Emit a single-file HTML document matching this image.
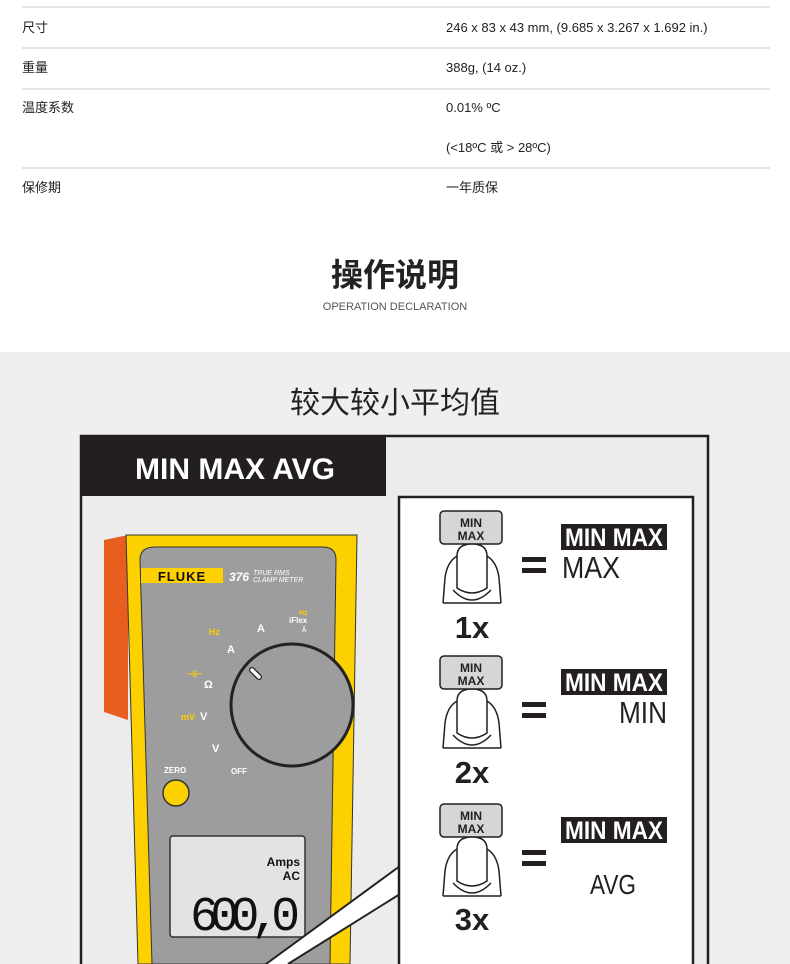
<!DOCTYPE html>
<html><head><meta charset="utf-8"><style>
*{margin:0;padding:0;box-sizing:border-box}
body{width:790px;height:964px;overflow:hidden;background:#fff;font-family:"Liberation Sans","Noto Sans CJK SC",sans-serif;color:#222;position:relative}
.t{position:absolute;font-size:13px;line-height:18px;white-space:nowrap}
.hl{position:absolute;left:22px;width:748px;height:2px;background:#e4e4e4}
</style></head><body>
<div class="hl" style="top:6px"></div>
<div class="t" style="left:22px;top:19px">尺寸</div>
<div class="t" style="left:446px;top:19px">246 x 83 x 43 mm, (9.685 x 3.267 x 1.692 in.)</div>
<div class="hl" style="top:47px"></div>
<div class="t" style="left:22px;top:59px">重量</div>
<div class="t" style="left:446px;top:59px">388g, (14 oz.)</div>
<div class="hl" style="top:88px"></div>
<div class="t" style="left:22px;top:99px">温度系数</div>
<div class="t" style="left:446px;top:99px">0.01% ºC</div>
<div class="t" style="left:446px;top:139px">(&lt;18ºC 或 &gt; 28ºC)</div>
<div class="hl" style="top:167px"></div>
<div class="t" style="left:22px;top:179px">保修期</div>
<div class="t" style="left:446px;top:179px">一年质保</div>
<div style="position:absolute;left:0;width:790px;top:254px;line-height:42px;text-align:center;font-size:32px;font-weight:bold;color:#222">操作说明</div>
<div style="position:absolute;left:0;width:790px;top:300px;line-height:14px;text-align:center;font-size:11px;color:#555">OPERATION DECLARATION</div>
<div style="position:absolute;left:0;top:352px;width:790px;height:612px;background:#efefef"></div>
<div style="position:absolute;left:0;width:790px;top:384px;line-height:40px;text-align:center;font-size:30px;color:#222">较大较小平均值</div>
<svg style="position:absolute;left:0;top:0" width="790" height="964" viewBox="0 0 790 964">
<rect x="81" y="436" width="627" height="540" fill="#ececec" stroke="#231f20" stroke-width="2.5"/>
<rect x="81" y="436" width="305" height="60" fill="#231f20"/>
<text x="235" y="479" text-anchor="middle" font-family="Liberation Sans" font-weight="bold" font-size="30" fill="#fff">MIN MAX AVG</text>
<path d="M104 540 L128 535 L128 720 L104 712 Z" fill="#e85e1f"/>
<path d="M126 535 L357 535 L350 964 L138 964 Z" fill="#fdd100" stroke="#333" stroke-width="1"/>
<path d="M140 560 Q140 547 155 547 L323 547 Q336 547 336 560 L330 964 L152 964 Z" fill="#9d9d9d" stroke="#333" stroke-width="1"/>
<rect x="141" y="568" width="82" height="15" fill="#fdd100"/>
<text x="182" y="581" text-anchor="middle" font-family="Liberation Sans" font-weight="bold" font-size="13" fill="#111" letter-spacing="1">FLUKE</text>
<text x="229" y="581" font-family="Liberation Sans" font-weight="bold" font-style="italic" font-size="12" fill="#fff">376</text>
<text x="253" y="575" font-family="Liberation Sans" font-style="italic" font-size="7" fill="#fff">TRUE RMS</text>
<text x="253" y="582" font-family="Liberation Sans" font-style="italic" font-size="7" fill="#fff">CLAMP METER</text>
<g font-family="Liberation Sans" font-weight="bold" fill="#fff">
<text x="257" y="632" font-size="11">A</text>
<text x="289" y="623" font-size="8">iFlex</text>
<text x="299" y="615" font-size="7" fill="#fdd100">Hz</text>
<text x="302" y="632" font-size="6">Ã</text>
<text x="209" y="635" font-size="9" fill="#fdd100">Hz</text>
<text x="227" y="653" font-size="11">A</text>
<text x="204" y="688" font-size="11">Ω</text>
<text x="187" y="677" font-size="9" fill="#fdd100">⊣⊢</text>
<text x="181" y="720" font-size="9" fill="#fdd100">mV</text>
<text x="200" y="720" font-size="11">V</text>
<text x="212" y="752" font-size="11">V</text>
<text x="164" y="773" font-size="8">ZERO</text>
<text x="231" y="774" font-size="8">OFF</text>
</g>
<circle cx="292" cy="705" r="61" fill="#9d9d9d" stroke="#222" stroke-width="3"/>
<line x1="252" y1="670" x2="259" y2="677" stroke="#222" stroke-width="6" stroke-linecap="round"/>
<line x1="252" y1="670" x2="259" y2="677" stroke="#fff" stroke-width="3.5" stroke-linecap="round"/>
<circle cx="176" cy="793" r="13" fill="#fdd100" stroke="#333" stroke-width="1.5"/>
<rect x="170" y="836" width="135" height="101" rx="3" fill="#e3e3e3" stroke="#333" stroke-width="1.5"/>
<text x="300" y="866" text-anchor="end" font-family="Liberation Sans" font-weight="bold" font-size="12" fill="#111">Amps</text>
<text x="300" y="880" text-anchor="end" font-family="Liberation Sans" font-weight="bold" font-size="12" fill="#111">AC</text>
<text x="190" y="930" font-family="Liberation Mono" font-size="48" fill="#111" textLength="110">600,0</text>
<path d="M400 866 L266 964 L288 964 L400 894 Z" fill="#fff"/>
<path d="M400 866 L266 964 M400 894 L288 964" stroke="#222" stroke-width="2"/>
<rect x="399" y="497" width="294" height="480" fill="#fff" stroke="#231f20" stroke-width="2.5"/>
<defs>
<g id="row">
<rect x="440" y="511" width="62" height="33" rx="4" fill="#d6d6d6" stroke="#231f20" stroke-width="1.5"/>
<text x="471" y="527" text-anchor="middle" font-family="Liberation Sans" font-weight="bold" font-size="12" fill="#231f20">MIN</text>
<text x="471" y="540" text-anchor="middle" font-family="Liberation Sans" font-weight="bold" font-size="12" fill="#231f20">MAX</text>
<path d="M443 603 L445 578 Q447 562 457 556 M501 603 L499 578 Q497 562 487 556 M443 603 L501 603" fill="none" stroke="#231f20" stroke-width="1.5"/>
<path d="M453 590 Q472 610 491 590" fill="none" stroke="#231f20" stroke-width="1.5"/>
<path d="M457 588 L457 556 Q457 544 472 544 Q487 544 487 556 L487 588 Q472 598 457 588 Z" fill="#fff" stroke="#231f20" stroke-width="1.5"/>
<rect x="522" y="557" width="24" height="5" fill="#231f20"/>
<rect x="522" y="568" width="24" height="5" fill="#231f20"/>
<rect x="561" y="524" width="106" height="26" fill="#231f20"/>
<text x="614" y="546" text-anchor="middle" font-family="Liberation Sans" font-weight="bold" font-size="25" fill="#fff" textLength="98" lengthAdjust="spacingAndGlyphs">MIN MAX</text>
</g>
</defs>
<use href="#row"/>
<use href="#row" y="145"/>
<use href="#row" y="293"/>
<g font-family="Liberation Sans" font-weight="bold" font-size="31" fill="#231f20" text-anchor="middle">
<text x="472" y="638">1x</text>
<text x="472" y="783">2x</text>
<text x="472" y="930">3x</text>
</g>
<g font-family="Liberation Sans" font-size="31" fill="#231f20">
<text x="562" y="578" textLength="58" lengthAdjust="spacingAndGlyphs">MAX</text>
<text x="667" y="723" text-anchor="end" textLength="48" lengthAdjust="spacingAndGlyphs">MIN</text>
<text x="590" y="894" font-size="28" textLength="46" lengthAdjust="spacingAndGlyphs">AVG</text>
</g>
</svg>
</body></html>
